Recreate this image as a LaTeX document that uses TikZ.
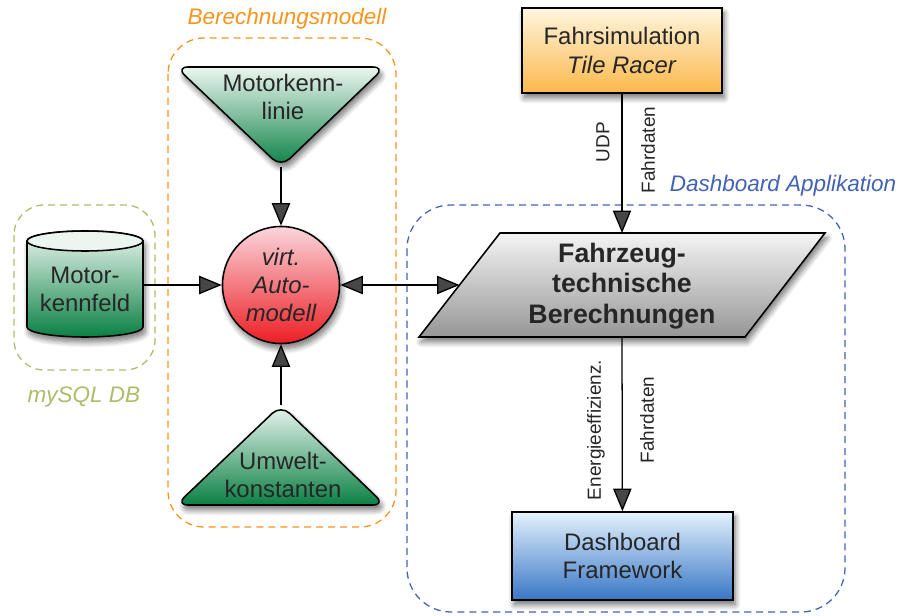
\documentclass[tikz,border=0pt]{standalone}
\usepackage{fontspec}
\setmainfont{Liberation Sans}
\usetikzlibrary{arrows.meta,shadows.blur}

\definecolor{grporange}{RGB}{247,148,29}
\definecolor{grpgreen}{RGB}{172,188,104}
\definecolor{grpblue}{RGB}{66,98,180}
\definecolor{txtgray}{RGB}{38,38,38}
\definecolor{greentop}{RGB}{236,246,240}
\definecolor{greenbot}{RGB}{10,128,68}
\definecolor{redtop}{RGB}{250,214,220}
\definecolor{redbot}{RGB}{236,30,36}
\definecolor{graytop}{RGB}{244,244,244}
\definecolor{graybot}{RGB}{150,150,150}
\definecolor{orangetop}{RGB}{255,246,222}
\definecolor{orangebot}{RGB}{250,184,76}
\definecolor{bluetop}{RGB}{228,242,252}
\definecolor{bluebot}{RGB}{56,118,198}

\tikzset{
  grp/.style={dash pattern=on 5pt off 3.5pt, line width=0.9pt},
  grplabel/.style={font=\fontsize{16}{19}\selectfont\itshape},
  txt/.style={font=\fontsize{17}{20}\selectfont, text=txtgray, align=center},
  lbl/.style={font=\fontsize{13.5}{16}\selectfont, text=txtgray, rotate=90},
  shape box/.style={draw=black, line width=1.1pt,
    blur shadow={shadow xshift=1.5pt, shadow yshift=-3.5pt, shadow blur steps=8, shadow blur radius=4pt, shadow opacity=55}},
  greenfill/.style={top color=greentop, bottom color=greenbot},
  arr/.style={line width=0.9pt, -{Triangle[length=16pt,width=13pt]}},
  darr/.style={line width=0.9pt, {Triangle[length=16pt,width=13pt]}-{Triangle[length=16pt,width=13pt]}},
}

\begin{document}
\begin{tikzpicture}[x=0.025cm,y=-0.025cm]
\useasboundingbox (0,0) rectangle (899,616);

% groups
\draw[grp, grporange, rounded corners=0.9cm] (168,38) rectangle (396,527);
\node[grplabel, text=grporange] (lbmodell) at (287,19) {Berechnungsmodell};
\draw[grp, grpgreen, rounded corners=0.75cm] (14,205) rectangle (155,370);
\node[grplabel, text=grpgreen] (lbdb) at (84,397) {mySQL DB};
\draw[grp, grpblue, rounded corners=1.1cm] (407,205) rectangle (845,612);
\node[grplabel, text=grpblue] (lbapp) at (783,186) {Dashboard Applikation};

% Motorkennlinie
\path[shape box, greenfill, rounded corners=0.3cm] (176,67) -- (385,67) -- (281,167) -- cycle;
\node[txt] (mkl) at (283,97) {Motorkenn-\\linie};
\coordinate (mkltip) at (281,167);

% Umweltkonstanten
\path[shape box, greenfill, rounded corners=0.3cm] (281,405) -- (385,505) -- (176,505) -- cycle;
\node[txt] (umk) at (283,475) {Umwelt-\\konstanten};
\coordinate (umktip) at (281,405);

% Motorkennfeld (DB)
\path[shape box, greenfill] (27,241) -- (27,327) arc (180:0:58 and 10) -- (143,241) arc (0:-180:58 and 10) -- cycle;
\draw[line width=1.1pt, fill=greentop] (85,241) ellipse (58 and 10);
\node[txt, minimum width=2.9cm] (mkf) at (85,289) {Motor-\\kennfeld};

% virt. Automodell
\node[circle, shape box, top color=redtop, bottom color=redbot, minimum size=2.925cm,
      txt, font=\fontsize{17}{20}\selectfont\itshape] (auto) at (281,285) {virt.\\Auto-\\modell};

% Fahrzeugtechnische Berechnungen
\path[shape box, top color=graytop, bottom color=graybot] (500,233) -- (825,233) -- (745,337) -- (419,337) -- cycle;
\node[txt, font=\fontsize{19}{21.5}\selectfont\bfseries] (calc) at (622,286) {Fahrzeug-\\technische\\Berechnungen};
\coordinate (calcW) at (459.5,285);
\coordinate (calcN) at (622,233);
\coordinate (calcS) at (622,337);

% Fahrsimulation
\node[shape box, top color=orangetop, bottom color=orangebot, minimum width=5cm, minimum height=2.125cm,
      txt] (sim) at (622,50.5) {Fahrsimulation\\\textit{Tile Racer}};

% Dashboard Framework
\node[shape box, top color=bluetop, bottom color=bluebot, minimum width=5.525cm, minimum height=2.2cm,
      txt] (dash) at (622.5,556) {Dashboard\\Framework};

% connectors
\draw[arr] (mkltip) -- (auto);
\draw[arr] (umktip) -- (auto);
\draw[arr] (mkf.east |- auto) -- (auto);
\draw[darr] (auto) -- (calcW);
\draw[arr] (sim) -- (calcN);
\draw[arr] (calcS) -- (dash);

% connector labels
\node[lbl] (udp) at (603,142) {UDP};
\node[lbl] (fd1) at (648,150) {Fahrdaten};
\node[lbl] (eeff) at (596,430) {Energieeffizienz.};
\node[lbl] (fd2) at (647,420) {Fahrdaten};
\end{tikzpicture}
\end{document}
